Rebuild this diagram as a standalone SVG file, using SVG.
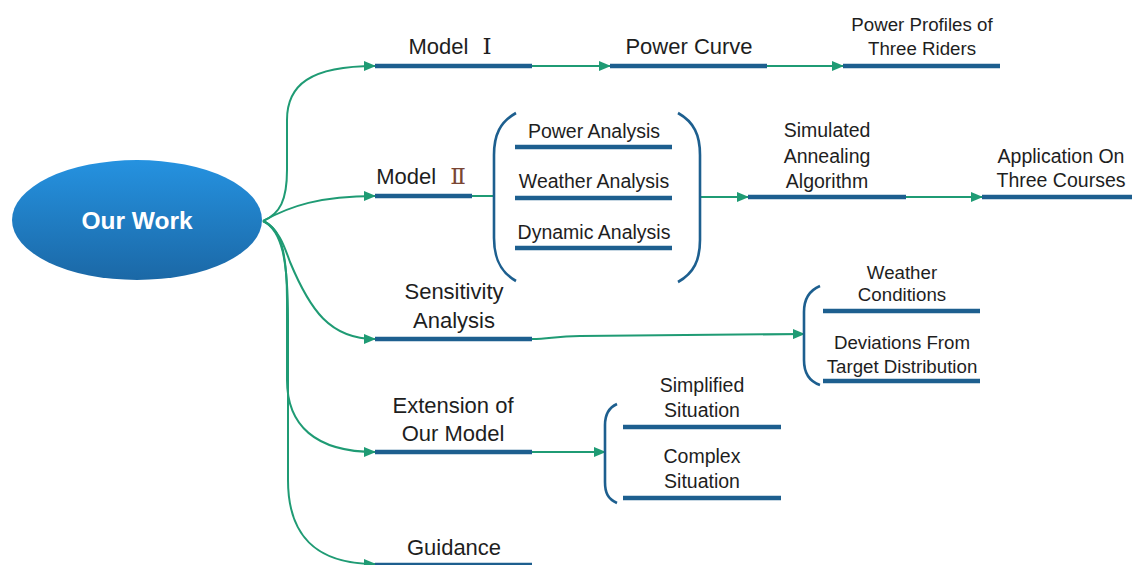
<svg xmlns="http://www.w3.org/2000/svg" width="1132" height="565" viewBox="0 0 1132 565">
  <defs>
    <linearGradient id="ovalFill" x1="0" y1="0" x2="0" y2="1">
      <stop offset="0" stop-color="#2592e0"/>
      <stop offset="1" stop-color="#1b68a6"/>
    </linearGradient>
    <marker id="arrow" viewBox="0 0 12 10" refX="11" refY="5" markerWidth="12" markerHeight="10" markerUnits="userSpaceOnUse" orient="auto">
      <path d="M0,0 L12,5 L0,10 Z" fill="#1f9b74"/>
    </marker>
  </defs>
  <style>
    .link { fill: none; stroke: #1f9b74; stroke-width: 2; }
    .bar { stroke: #1d5f8f; stroke-width: 4.5; stroke-linecap: butt; }
    .brace { fill: none; stroke: #1d5f8f; stroke-width: 2.6; }
    .t { font-family: "Liberation Sans", "Noto Sans CJK SC", sans-serif; fill: #1e1e1e; text-anchor: middle; }
    .num { font-family: "DejaVu Serif", "Liberation Serif", serif; font-size: 23px; }
    .big { font-size: 22px; }
    .mid { font-size: 19.5px; }
    .sm { font-size: 18.7px; }
  </style>
  <rect width="1132" height="565" fill="#ffffff"/>

  <!-- connectors -->
  <g id="connectors">
    <path class="link" d="M263,221 C280,214 287,200 287,170 L287,120 C287,85 310,66 375,66" marker-end="url(#arrow)"/>
    <path class="link" d="M263,221 C290,206 320,196 375,196" marker-end="url(#arrow)"/>
    <path class="link" d="M263,221 C278,228 284,245 290,262 C310,310 330,339 375,339" marker-end="url(#arrow)"/>
    <path class="link" d="M263,221 C280,228 287,250 287,300 L287,380 C287,425 315,452 375,452" marker-end="url(#arrow)"/>
    <path class="link" d="M263,221 C282,230 288,260 288,320 L288,480 C288,535 315,564 375,564" marker-end="url(#arrow)"/>
    <path class="link" d="M532,66 L610,66" marker-end="url(#arrow)"/>
    <path class="link" d="M767,66 L843,66" marker-end="url(#arrow)"/>
    <path class="link" d="M472,196 L494,196"/>
    <path class="link" d="M701,197 L748,197" marker-end="url(#arrow)"/>
    <path class="link" d="M906,197 L982,197" marker-end="url(#arrow)"/>
    <path class="link" d="M532,339 C550,339 555,336 580,336 L804,334" marker-end="url(#arrow)"/>
    <path class="link" d="M532,452 L605,452" marker-end="url(#arrow)"/>
  </g>

  <!-- root -->
  <g id="our-work">
    <ellipse cx="137" cy="220" rx="125" ry="60" fill="url(#ovalFill)"/>
    <text x="137" y="229" font-family="Liberation Sans, sans-serif" font-size="24.5" font-weight="bold" fill="#ffffff" text-anchor="middle">Our Work</text>
  </g>

  <g id="model-1">
    <line class="bar" x1="375" y1="66" x2="532" y2="66"/>
    <text class="t big" x="450" y="54">Model <tspan class="num" dx="8">Ⅰ</tspan></text>
  </g>

  <g id="power-curve">
    <line class="bar" x1="610" y1="66" x2="767" y2="66"/>
    <text class="t big" x="689" y="54">Power Curve</text>
  </g>

  <g id="power-profiles">
    <line class="bar" x1="843" y1="66" x2="1000" y2="66"/>
    <text class="t sm" x="922" y="31">Power Profiles of</text>
    <text class="t sm" x="922" y="55">Three Riders</text>
  </g>

  <g id="model-2">
    <line class="bar" x1="375" y1="196" x2="472" y2="196"/>
    <text class="t big" x="421" y="184">Model <tspan class="num" dx="8" fill="#7a4634">Ⅱ</tspan></text>
  </g>

  <g id="analysis-group">
    <path class="brace" d="M516,113 C500,122 494,135 494,155 L494,238 C494,258 500,272 516,281"/>
    <path class="brace" d="M678,113 C694,122 700,135 700,155 L700,240 C700,260 694,273 678,282"/>
    <line class="bar" x1="515" y1="147" x2="672" y2="147"/>
    <line class="bar" x1="515" y1="198" x2="672" y2="198"/>
    <line class="bar" x1="515" y1="248" x2="672" y2="248"/>
    <text class="t mid" x="594" y="138">Power Analysis</text>
    <text class="t mid" x="594" y="188">Weather Analysis</text>
    <text class="t mid" x="594" y="239">Dynamic Analysis</text>
  </g>

  <g id="simulated-annealing">
    <line class="bar" x1="748" y1="197" x2="906" y2="197"/>
    <text class="t mid" x="827" y="137">Simulated</text>
    <text class="t mid" x="827" y="163">Annealing</text>
    <text class="t mid" x="827" y="188">Algorithm</text>
  </g>

  <g id="application">
    <line class="bar" x1="982" y1="197" x2="1132" y2="197"/>
    <text class="t mid" x="1061" y="163">Application On</text>
    <text class="t mid" x="1061" y="187">Three Courses</text>
  </g>

  <g id="sensitivity">
    <line class="bar" x1="375" y1="339" x2="532" y2="339"/>
    <text class="t big" x="454" y="299">Sensitivity</text>
    <text class="t big" x="454" y="328">Analysis</text>
  </g>

  <g id="sensitivity-items">
    <path class="brace" d="M820,286 C808,291 804,300 804,312 L804,360 C804,372 808,381 820,385"/>
    <line class="bar" x1="823" y1="311" x2="980" y2="311"/>
    <line class="bar" x1="823" y1="381" x2="980" y2="381"/>
    <text class="t sm" x="902" y="279">Weather</text>
    <text class="t sm" x="902" y="301">Conditions</text>
    <text class="t sm" x="902" y="349">Deviations From</text>
    <text class="t sm" x="902" y="373">Target Distribution</text>
  </g>

  <g id="extension">
    <line class="bar" x1="375" y1="452" x2="532" y2="452"/>
    <text class="t big" x="453" y="413">Extension of</text>
    <text class="t big" x="453" y="441">Our Model</text>
  </g>

  <g id="extension-items">
    <path class="brace" d="M617,404 C608,408 605,415 605,425 L605,482 C605,493 608,499 617,503"/>
    <line class="bar" x1="623" y1="427" x2="781" y2="427"/>
    <line class="bar" x1="623" y1="498" x2="781" y2="498"/>
    <text class="t mid" x="702" y="392">Simplified</text>
    <text class="t mid" x="702" y="417">Situation</text>
    <text class="t mid" x="702" y="463">Complex</text>
    <text class="t mid" x="702" y="488">Situation</text>
  </g>

  <g id="guidance">
    <line class="bar" x1="375" y1="565" x2="532" y2="565"/>
    <text class="t big" x="454" y="555">Guidance</text>
  </g>
</svg>
